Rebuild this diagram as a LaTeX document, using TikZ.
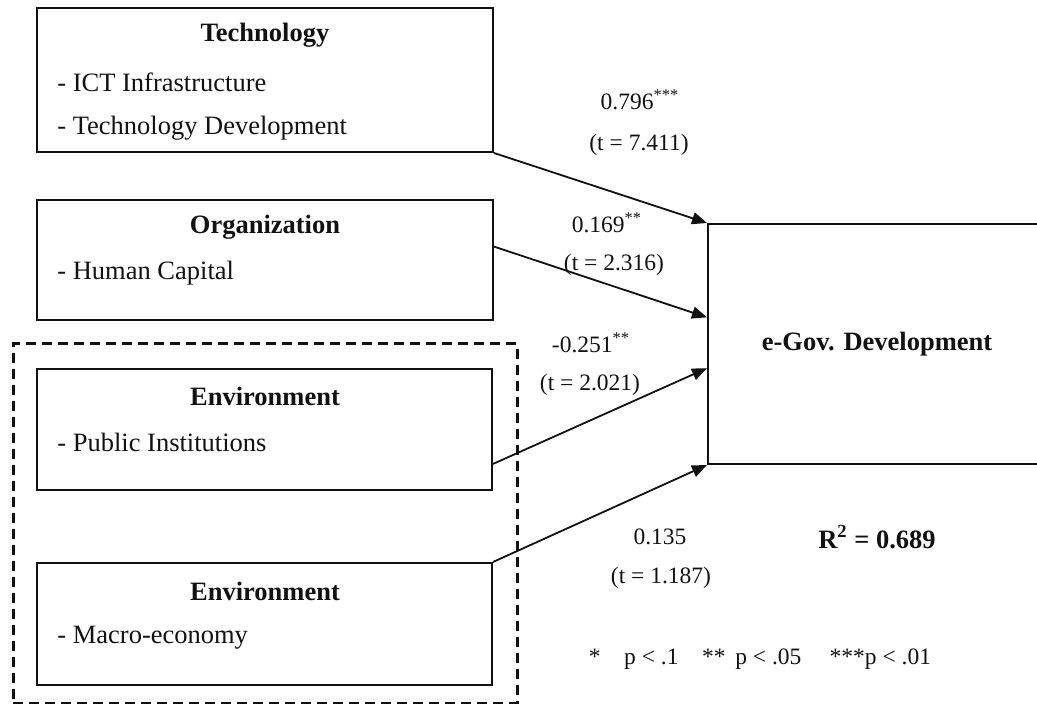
\documentclass[tikz,border=0pt]{standalone}
\usepackage{fontspec}
\setmainfont{Liberation Serif}
\usetikzlibrary{arrows.meta, calc}
\definecolor{ink}{HTML}{111111}
\tikzset{
  font=\fontsize{13.25}{16}\selectfont,
  >={Triangle[length=7.5pt, width=6pt]},
  %
  box/.style={draw=ink, line width=1pt, inner sep=0pt, text=ink},
  envgroup/.style={draw=ink, line width=1.5pt, dash pattern=on 5pt off 3pt,
                   inner sep=0pt},
  link/.style={draw=ink, line width=0.9pt, ->},
  %
  heading/.style={font=\fontsize{13.25}{16}\selectfont\bfseries, text=ink,
                  inner sep=0pt},
  entry/.style={anchor=west, text=ink, inner sep=0pt},
  coef/.style={font=\fontsize{11.75}{14}\selectfont, text=ink, inner sep=0pt},
}
\begin{document}
\begin{tikzpicture}[x=0.5pt, y=-0.5pt]
  \useasboundingbox (0,0) rectangle (1037,704);

  % predictors
  \node[box, minimum width=228pt, minimum height=72pt] (tech) at (265,80) {};
  \node[box, minimum width=228pt, minimum height=60pt] (org) at (265,260) {};
  \node[box, minimum width=227.5pt, minimum height=60.5pt] (envpub) at (264.5,429.5) {};
  \node[box, minimum width=227.5pt, minimum height=61pt] (envmac) at (264.5,624) {};
  \node[envgroup, minimum width=252pt, minimum height=179.5pt] (envbox) at (265,523.5) {};

  \node[heading] (techh) at (265,35) {Technology};
  \node[entry] (techa) at (57,82) {- ICT Infrastructure};
  \node[entry] (techb) at (57,128) {- Technology Development};
  \node[heading] (orgh) at (265,227) {Organization};
  \node[entry] (orga) at (57,273) {- Human Capital};
  \node[heading] (envpubh) at (265,396) {Environment};
  \node[entry] (envpuba) at (57,442) {- Public Institutions};
  \node[heading] (envmach) at (265,591) {Environment};
  \node[entry] (envmaca) at (57,638) {- Macro-economy};

  % outcome
  \node[box, minimum width=169pt, minimum height=120pt,
        font=\fontsize{13.25}{16}\selectfont\bfseries] (egov) at (877,344)
    {e-Gov. Development};

  % paths
  \draw[link] (tech.south east) -- (egov.north west);
  \draw[link] ($(org.north east)!0.39!(org.south east)$)
    -- ($(egov.north west)!0.39!(egov.south west)$);
  \draw[link] ($(envpub.north east)!0.78!(envpub.south east)$)
    -- ($(egov.north west)!0.6!(egov.south west)$);
  \draw[link] (envmac.north east) -- (egov.south west);

  \node[coef] (c1) at (640,100) {0.796\textsuperscript{***}};
  \node[coef] (t1) at (639,145) {(t = 7.411)};
  \node[coef] (c2) at (607,223) {0.169\textsuperscript{**}};
  \node[coef] (t2) at (614,265) {(t = 2.316)};
  \node[coef] (c3) at (591,343) {-0.251\textsuperscript{**}};
  \node[coef] (t3) at (590,385) {(t = 2.021)};
  \node[coef] (c4) at (660,537) {0.135};
  \node[coef] (t4) at (661,578) {(t = 1.187)};

  \node[heading] (rsq) at (877,537) {R\textsuperscript{2} = 0.689};
  \node[coef] (sig) at (760,659)
    {*\hspace{1em}p < .1\hspace{1em}** \,p < .05\hspace{1.2em}***p < .01};

\end{tikzpicture}
\end{document}
